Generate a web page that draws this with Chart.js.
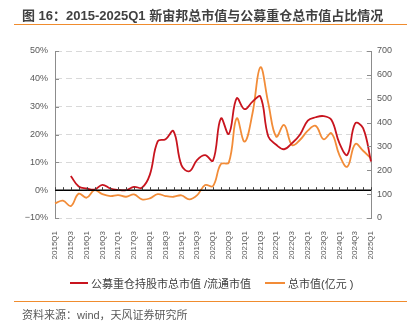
<!DOCTYPE html>
<html>
<head>
<meta charset="utf-8">
<script src="https://cdn.jsdelivr.net/npm/chart.js@4"></script>
<style>
    html, body { margin: 0; padding: 0; background: #fff; }
    body { width: 413px; height: 335px; position: relative; overflow: hidden;
        font-family: 'Liberation Sans', 'Noto Sans CJK SC', sans-serif; }
    #title { position: absolute; left: 22px; top: 5px; font-size: 13px; font-weight: bold; color: #404040; white-space: nowrap; z-index: 2; }
    .rule { position: absolute; left: 14px; width: 393px; height: 1px; background: #f08c2e; z-index: 2; }
    #source { position: absolute; left: 22px; top: 306px; font-size: 11px; color: #595959; white-space: nowrap; z-index: 2; }
    #chartBox { position: absolute; left: 0; top: 0; width: 413px; height: 335px; }
    .key { position: absolute; top: 276px; height: 14px; display: flex; align-items: center;
        font-size: 11px; color: #404040; white-space: nowrap; z-index: 2; }
    .key i { display: inline-block; height: 2px; margin-right: 3px; }
</style>
</head>
<body>
<div id="title">图 16：2015-2025Q1 新宙邦总市值与公募重仓总市值占比情况</div>
<div class="rule" style="top:24px"></div>
<div id="chartBox"><canvas id="capChart" width="413" height="335"></canvas></div>
<div id="legend"></div>
<div class="rule" style="top:301px"></div>
<div id="source">资料来源：wind，天风证券研究所</div>

<script>
// ===== DATA =====
const quarters = [
    '2015Q1', '2015Q2', '2015Q3', '2015Q4', '2016Q1', '2016Q2', '2016Q3', '2016Q4',
    '2017Q1', '2017Q2', '2017Q3', '2017Q4', '2018Q1', '2018Q2', '2018Q3', '2018Q4',
    '2019Q1', '2019Q2', '2019Q3', '2019Q4', '2020Q1', '2020Q2', '2020Q3', '2020Q4',
    '2021Q1', '2021Q2', '2021Q3', '2021Q4', '2022Q1', '2022Q2', '2022Q3', '2022Q4',
    '2023Q1', '2023Q2', '2023Q3', '2023Q4', '2024Q1', '2024Q2', '2024Q3', '2024Q4',
    '2025Q1'
];

// 公募重仓持股市值 / 流通市值 (%), left axis
const fundShare = [
    null, null, 5.1, 1.3, 0.6, 0.2, 1.9, 0.6,
    0.1, 0.0, 1.2, 0.9, 5.5, 17.5, 18.3, 21.2,
    9.0, 6.8, 10.9, 12.6, 10.6, 25.8, 20.2, 33.0,
    29.1, 31.8, 33.6, 19.3, 16.3, 14.7, 16.9, 19.9,
    25.0, 26.2, 26.6, 25.2, 16.9, 12.7, 24.0, 22.3,
    10.3
];

// 总市值 (亿元), right axis
const marketCap = [
    61, 73, 50, 102, 85, 117, 100, 92,
    96, 89, 99, 78, 82, 100, 92, 89,
    95, 78, 96, 138, 134, 226, 232, 418,
    320, 439, 632, 481, 341, 390, 306, 327,
    366, 386, 330, 355, 264, 215, 310, 282,
    250
];

const seriesNames = ['公募重仓持股市总市值 /流通市值', '总市值(亿元 )'];

const RED = '#c8141e';
const ORANGE = '#f28c38';
const AXIS_GREY = '#8c8c8c';
const FONT = "'Liberation Sans', 'Noto Sans CJK SC', sans-serif";

// zero line, inward tick marks on both value axes and quarter ticks on the zero line
const axisMarks = {
    id: 'axisMarks',
    afterDatasetsDraw(chart) {
        const { ctx, chartArea, scales } = chart;
        const y0 = scales.y.getPixelForValue(0);
        ctx.save();
        ctx.lineWidth = 1;
        ctx.strokeStyle = AXIS_GREY;
        ctx.beginPath();
        scales.y.ticks.forEach(t => {
            const py = Math.round(scales.y.getPixelForValue(t.value)) + 0.5;
            ctx.moveTo(chartArea.left, py);
            ctx.lineTo(chartArea.left + 4, py);
        });
        scales.y1.ticks.forEach(t => {
            const py = Math.round(scales.y1.getPixelForValue(t.value)) + 0.5;
            ctx.moveTo(chartArea.right, py);
            ctx.lineTo(chartArea.right - 4, py);
        });
        ctx.stroke();

        ctx.strokeStyle = '#000';
        ctx.lineWidth = 1.5;
        ctx.beginPath();
        ctx.moveTo(chartArea.left, y0);
        ctx.lineTo(chartArea.right, y0);
        ctx.stroke();

        ctx.lineWidth = 1;
        ctx.strokeStyle = '#404040';
        ctx.beginPath();
        quarters.forEach((q, i) => {
            const px = Math.round(scales.x.getPixelForValue(i)) + 0.5;
            ctx.moveTo(px, y0);
            ctx.lineTo(px, y0 - 3);
        });
        ctx.stroke();
        ctx.restore();
    }
};

const chart = new Chart(document.getElementById('capChart').getContext('2d'), {
    type: 'line',
    data: {
        labels: quarters,
        datasets: [
            {
                label: seriesNames[0],
                data: fundShare,
                yAxisID: 'y',
                borderColor: RED,
                backgroundColor: RED,
                borderWidth: 1.8,
                pointRadius: 0,
                tension: 0.4,
                fill: false,
            },
            {
                label: seriesNames[1],
                data: marketCap,
                yAxisID: 'y1',
                borderColor: ORANGE,
                backgroundColor: ORANGE,
                borderWidth: 1.8,
                pointRadius: 0,
                tension: 0.4,
                fill: false,
            }
        ]
    },
    options: {
        responsive: false,
        animation: false,
        layout: { padding: { top: 51, left: 0, right: 0, bottom: 67 } },
        plugins: {
            tooltip: { enabled: false },
            legend: { display: false },
        },
        scales: {
            x: {
                offset: false,
                grid: { display: false },
                border: { display: false },
                ticks: {
                    autoSkip: false,
                    minRotation: 90,
                    maxRotation: 90,
                    padding: 5,
                    color: '#595959',
                    font: { family: FONT, size: 8 },
                    callback: (v, i) => (i % 2 === 0 ? quarters[i] : ''),
                },
                afterFit: s => { s.height = 50; }
            },
            y: {
                position: 'left',
                min: -10,
                max: 50,
                grid: {
                    color: c => (c.tick.value === 0 ? 'rgba(0,0,0,0)' : '#d9d9d9'),
                    drawTicks: false,
                },
                border: { display: true, color: AXIS_GREY, width: 1, dash: [6, 4] },
                ticks: {
                    stepSize: 10,
                    padding: 7,
                    color: '#595959',
                    font: { family: FONT, size: 9 },
                    callback: v => (v < 0 ? '\u2212' + Math.abs(v) : v) + '%',
                },
                afterFit: s => { s.width = 55; }
            },
            y1: {
                position: 'right',
                min: 0,
                max: 700,
                grid: { drawOnChartArea: false, drawTicks: false },
                border: { display: true, color: AXIS_GREY, width: 1 },
                ticks: {
                    stepSize: 100,
                    padding: 6,
                    color: '#595959',
                    font: { family: FONT, size: 9 },
                },
                afterFit: s => { s.width = 42; }
            }
        }
    },
    plugins: [axisMarks]
});

// legend below the x labels, built from the datasets
const keyLeft = [70, 265];
const keyLine = [18, 20];
document.getElementById('legend').innerHTML = chart.data.datasets.map((ds, i) =>
    `<div class="key" style="left:${keyLeft[i]}px"><i style="width:${keyLine[i]}px;background:${ds.borderColor}"></i>${ds.label}</div>`
).join('');
</script>
</body>
</html>
